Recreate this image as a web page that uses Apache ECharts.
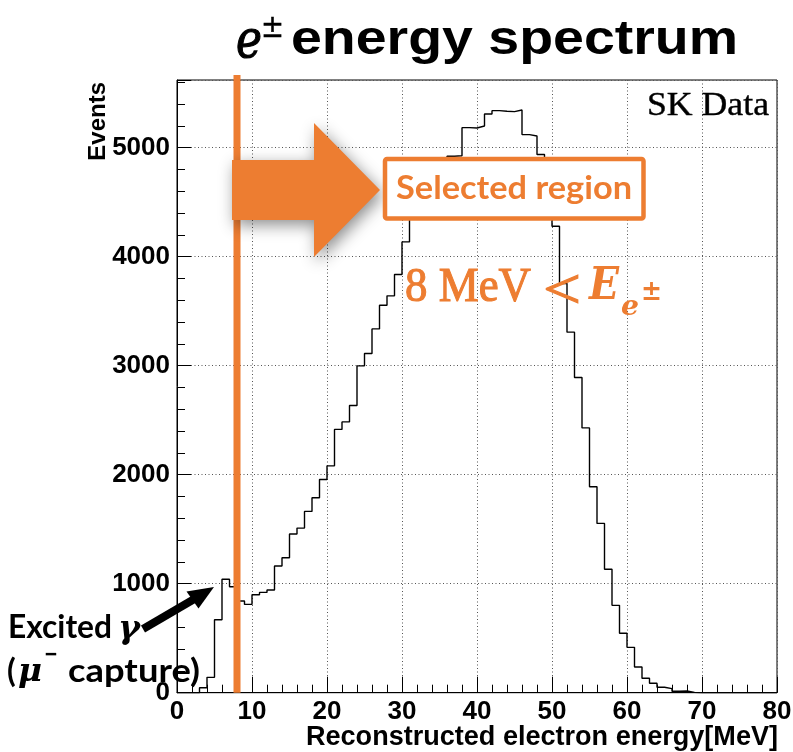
<!DOCTYPE html>
<html>
<head>
<meta charset="utf-8">
<script src="https://cdn.jsdelivr.net/npm/echarts@6/dist/echarts.min.js"></script>
<style>
  html, body { margin: 0; padding: 0; background: #fff; }
  #chart { width: 793px; height: 752px; }
</style>
</head>
<body>
<div id="chart"></div>
<script>
// Reconstructed e± energy spectrum, 1 MeV bins from 0 to 80 MeV (lower edges)
const binEdges = Array.from({ length: 81 }, (_, i) => i);
const eventCounts = [
  0, 0, 0, 46, 141, 669, 1040, 972, 841, 810,
  898, 920, 942, 1162, 1238, 1455, 1510, 1663, 1788, 1956,
  2081, 2415, 2484, 2635, 2998, 3112, 3337, 3554, 3640, 3836,
  4135, 4420, 4580, 4720, 4820, 4890, 4920, 4925, 5183, 5180,
  5198, 5308, 5339, 5333, 5330, 5345, 5119, 5106, 4936, 4600,
  4278, 3753, 3307, 2891, 2429, 1889, 1553, 1132, 801, 545,
  416, 236, 132, 86, 50, 37, 13, 16, 3, 0,
  0, 0, 0, 0, 0, 0, 0, 0, 0, 0
];
const xTickValues = [0, 10, 20, 30, 40, 50, 60, 70, 80];
const yTickValues = [0, 1000, 2000, 3000, 4000, 5000];
const yMax = 5620;
const CUT_ENERGY = 8; // MeV, lower edge of the selected region

const ORANGE = '#ED7D31';
const SANS = 'Liberation Sans';

// step outline: each bin drawn flat from its lower to its upper edge
const histPoints = eventCounts.map((v, i) => [binEdges[i], v]);
histPoints.push([binEdges[binEdges.length - 1], eventCounts[eventCounts.length - 1]]);

const chart = echarts.init(document.getElementById('chart'), null, { renderer: 'canvas' });

const tickLabelStyle = {
  fontFamily: SANS, fontWeight: 'bold', fontSize: 26, color: '#000'
};

chart.setOption({
  animation: false,
  backgroundColor: '#fff',
  grid: {
    left: 177, top: 80, width: 600, height: 612.7,
    show: true, borderColor: '#000', borderWidth: 1, backgroundColor: '#fff',
    containLabel: false, outerBoundsMode: 'none'
  },
  xAxis: {
    type: 'value',
    min: xTickValues[0], max: xTickValues[xTickValues.length - 1],
    interval: xTickValues[1] - xTickValues[0],
    axisLine: { show: true, lineStyle: { color: '#000', width: 1 } },
    axisTick: { show: true, inside: true, length: 16, lineStyle: { color: '#000', width: 1 } },
    minorTick: { show: true, splitNumber: 5, length: 8, lineStyle: { color: '#000', width: 1 } },
    splitLine: { show: true, lineStyle: { color: '#555', width: 1, type: [1, 2.5] } },
    axisLabel: Object.assign({ margin: 6, formatter: v => (xTickValues.includes(v) ? String(v) : '') }, tickLabelStyle)
  },
  yAxis: [
    {
      type: 'value', position: 'left',
      min: yTickValues[0], max: yMax,
      interval: yTickValues[1] - yTickValues[0],
      axisLine: { show: true, lineStyle: { color: '#000', width: 1 } },
      axisTick: { show: true, inside: true, length: 14, lineStyle: { color: '#000', width: 1 } },
      splitLine: { show: true, lineStyle: { color: '#555', width: 1, type: [1, 2.5] } },
      axisLabel: Object.assign({ margin: 7, formatter: v => (yTickValues.includes(v) ? String(v) : '') }, tickLabelStyle)
    },
    {
      // minor ticks every 200 events
      type: 'value', position: 'left', offset: 0,
      min: 0, max: yMax, interval: 200,
      axisLine: { show: false },
      axisTick: { show: true, inside: true, length: 8, lineStyle: { color: '#000', width: 1 } },
      splitLine: { show: false },
      axisLabel: { show: false }
    }
  ],
  series: [{
    type: 'line',
    step: 'end',
    data: histPoints,
    xAxisIndex: 0, yAxisIndex: 0,
    symbol: 'none',
    lineStyle: { color: '#000', width: 1.4 },
    z: 2
  }]
});

// text helpers
const measureCtx = document.createElement('canvas').getContext('2d');
function measure(str, o) {
  measureCtx.font = `${o.fontStyle || 'normal'} ${o.fontWeight || 'normal'} ${o.size}px "${o.family}"`;
  return measureCtx.measureText(str).width;
}
function label(str, o) {
  const sx = o.width ? o.width / measure(str, o) : 1;
  const style = {
    text: str, fontSize: o.size, fontFamily: o.family,
    fontWeight: o.fontWeight || 'normal', fontStyle: o.fontStyle || 'normal',
    fill: o.color || '#000', align: o.align || 'left', verticalAlign: o.valign || 'middle'
  };
  if (o.heavy) {
    style.stroke = o.color || '#000';
    style.lineWidth = o.heavy;
  }
  return {
    type: 'text', x: o.x, y: o.y, scaleX: sx, rotation: o.rotation || 0,
    z: o.z || 120, silent: true, style
  };
}

const cutX = chart.convertToPixel({ xAxisIndex: 0 }, CUT_ENERGY);
const axisBottom = chart.convertToPixel({ yAxisIndex: 0 }, 0);
const SERIF = 'DejaVu Serif';
const TEXT_SERIF = 'Liberation Serif';

chart.setOption({
  graphic: [
    // cut line
    { type: 'rect', z: 90, silent: true,
      shape: { x: cutX - 3.5, y: 75, width: 7, height: axisBottom - 75 },
      style: { fill: ORANGE } },
    // arrow pointing into the selected region
    { type: 'polygon', z: 95, silent: true,
      shape: { points: [[232, 160], [314, 160], [314, 123], [380, 190], [314, 257], [314, 220], [232, 220]] },
      style: { fill: ORANGE, shadowBlur: 16, shadowColor: 'rgba(0,0,0,0.45)', shadowOffsetX: 3, shadowOffsetY: 5 } },
    // selected-region box
    { type: 'rect', z: 100, silent: true,
      shape: { x: 385, y: 159, width: 258.5, height: 59.5, r: 2 },
      style: { fill: '#fff', stroke: ORANGE, lineWidth: 4.5 } },
    label('Selected region', { x: 396, y: 188.5, size: 32, family: 'Lato', fontWeight: 'bold', color: ORANGE, width: 236 }),
    // 8 MeV < E_e±
    label('8 MeV', { x: 405, y: 288, size: 48, family: TEXT_SERIF, color: ORANGE, width: 126, heavy: 1.1 }),
    label('<', { x: 543, y: 293, size: 58, family: TEXT_SERIF, color: ORANGE, width: 38, heavy: 1.1 }),
    label('E', { x: 589, y: 288, size: 44, family: SERIF, fontWeight: 'bold', fontStyle: 'italic', color: ORANGE, width: 30 }),
    label('e', { x: 621, y: 308, size: 28, family: SERIF, fontWeight: 'bold', fontStyle: 'italic', color: ORANGE, width: 18 }),
    label('±', { x: 641, y: 293, size: 28, family: SERIF, fontWeight: 'bold', color: ORANGE, width: 21 }),
    // SK Data
    label('SK Data', { x: 769, y: 106, size: 34, family: TEXT_SERIF, align: 'right', width: 122, heavy: 0.4 }),
    // title
    label('e', { x: 236, y: 43, size: 52, family: SERIF, fontStyle: 'italic', width: 26, heavy: 1.2 }),
    label('±', { x: 261, y: 29, size: 32, family: SERIF, width: 23, heavy: 0.6 }),
    label('energy spectrum', { x: 291, y: 41, size: 48, family: SANS, fontWeight: 'bold', width: 447 }),
    // axis titles
    label('Events', { x: 86, y: 82, size: 24, family: SANS, fontWeight: 'bold', rotation: Math.PI / 2, align: 'right', valign: 'top' }),
    label('Reconstructed electron energy[MeV]', { x: 778, y: 738, size: 27, family: SANS, fontWeight: 'bold', align: 'right', width: 472 }),
    // excited gamma annotation
    label('Excited', { x: 8, y: 628, size: 32, family: 'Lato', fontWeight: 'bold', width: 104 }),
    label('γ', { x: 118, y: 630, size: 32, family: SERIF, fontWeight: 'bold', fontStyle: 'italic', width: 22 }),
    label('(', { x: 7, y: 672, size: 32, family: 'Lato', fontWeight: 'bold' }),
    label('μ', { x: 18, y: 673, size: 32, family: SERIF, fontWeight: 'bold', fontStyle: 'italic', width: 24 }),
    label('−', { x: 44, y: 655, size: 22, family: SERIF, fontWeight: 'bold', width: 14 }),
    label('capture)', { x: 68, y: 672, size: 32, family: 'Lato', fontWeight: 'bold', width: 132 }),
    { type: 'line', z: 110, silent: true,
      shape: { x1: 143, y1: 629, x2: 196, y2: 598 },
      style: { stroke: '#000', lineWidth: 8 } },
    { type: 'polygon', z: 110, silent: true,
      shape: { points: [[214, 587], [186.5, 591.5], [198.5, 608.5]] },
      style: { fill: '#000' } }
  ]
});
</script>
</body>
</html>
